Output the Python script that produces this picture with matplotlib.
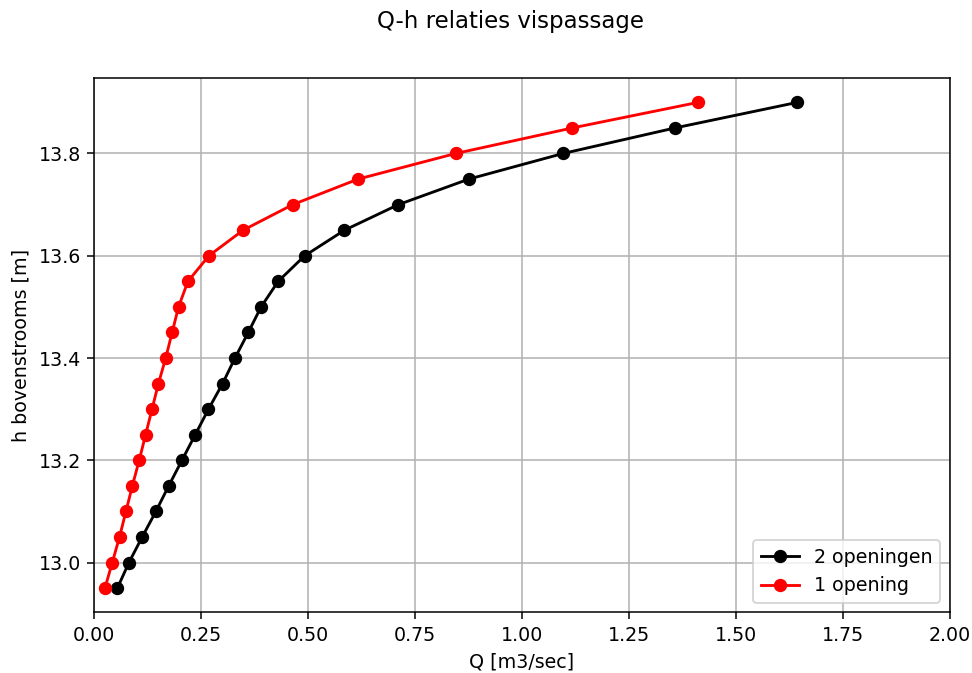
import numpy as np
import matplotlib.pyplot as plt

h = [12.95, 13.00, 13.05, 13.10, 13.15, 13.20, 13.25, 13.30, 13.35, 13.40,
     13.45, 13.50, 13.55, 13.60, 13.65, 13.70, 13.75, 13.80, 13.85, 13.90]

q_2_openingen = [0.054, 0.081, 0.112, 0.144, 0.174, 0.205, 0.236, 0.267, 0.300, 0.329,
                 0.360, 0.390, 0.430, 0.492, 0.585, 0.711, 0.876, 1.096, 1.358, 1.644]
q_1_opening = [0.025, 0.042, 0.059, 0.074, 0.089, 0.105, 0.120, 0.135, 0.150, 0.167,
               0.182, 0.197, 0.219, 0.268, 0.348, 0.464, 0.617, 0.845, 1.118, 1.412]

dpi = 137
fig, ax = plt.subplots(figsize=(972 / dpi, 673 / dpi), dpi=dpi)
fig.subplots_adjust(left=0.097, right=0.977, top=0.884, bottom=0.09)

ax.plot(q_2_openingen, h, 'o-', color='black', label='2 openingen')
ax.plot(q_1_opening, h, 'o-', color='red', label='1 opening')

ax.set_xlim(0, 2.0)
ax.set_xlabel('Q [m3/sec]')
ax.set_ylabel('h bovenstrooms [m]')
ax.grid(True)
ax.legend(loc='lower right')
fig.suptitle('Q-h relaties vispassage', x=0.525, y=0.985)

plt.savefig('out.png')
